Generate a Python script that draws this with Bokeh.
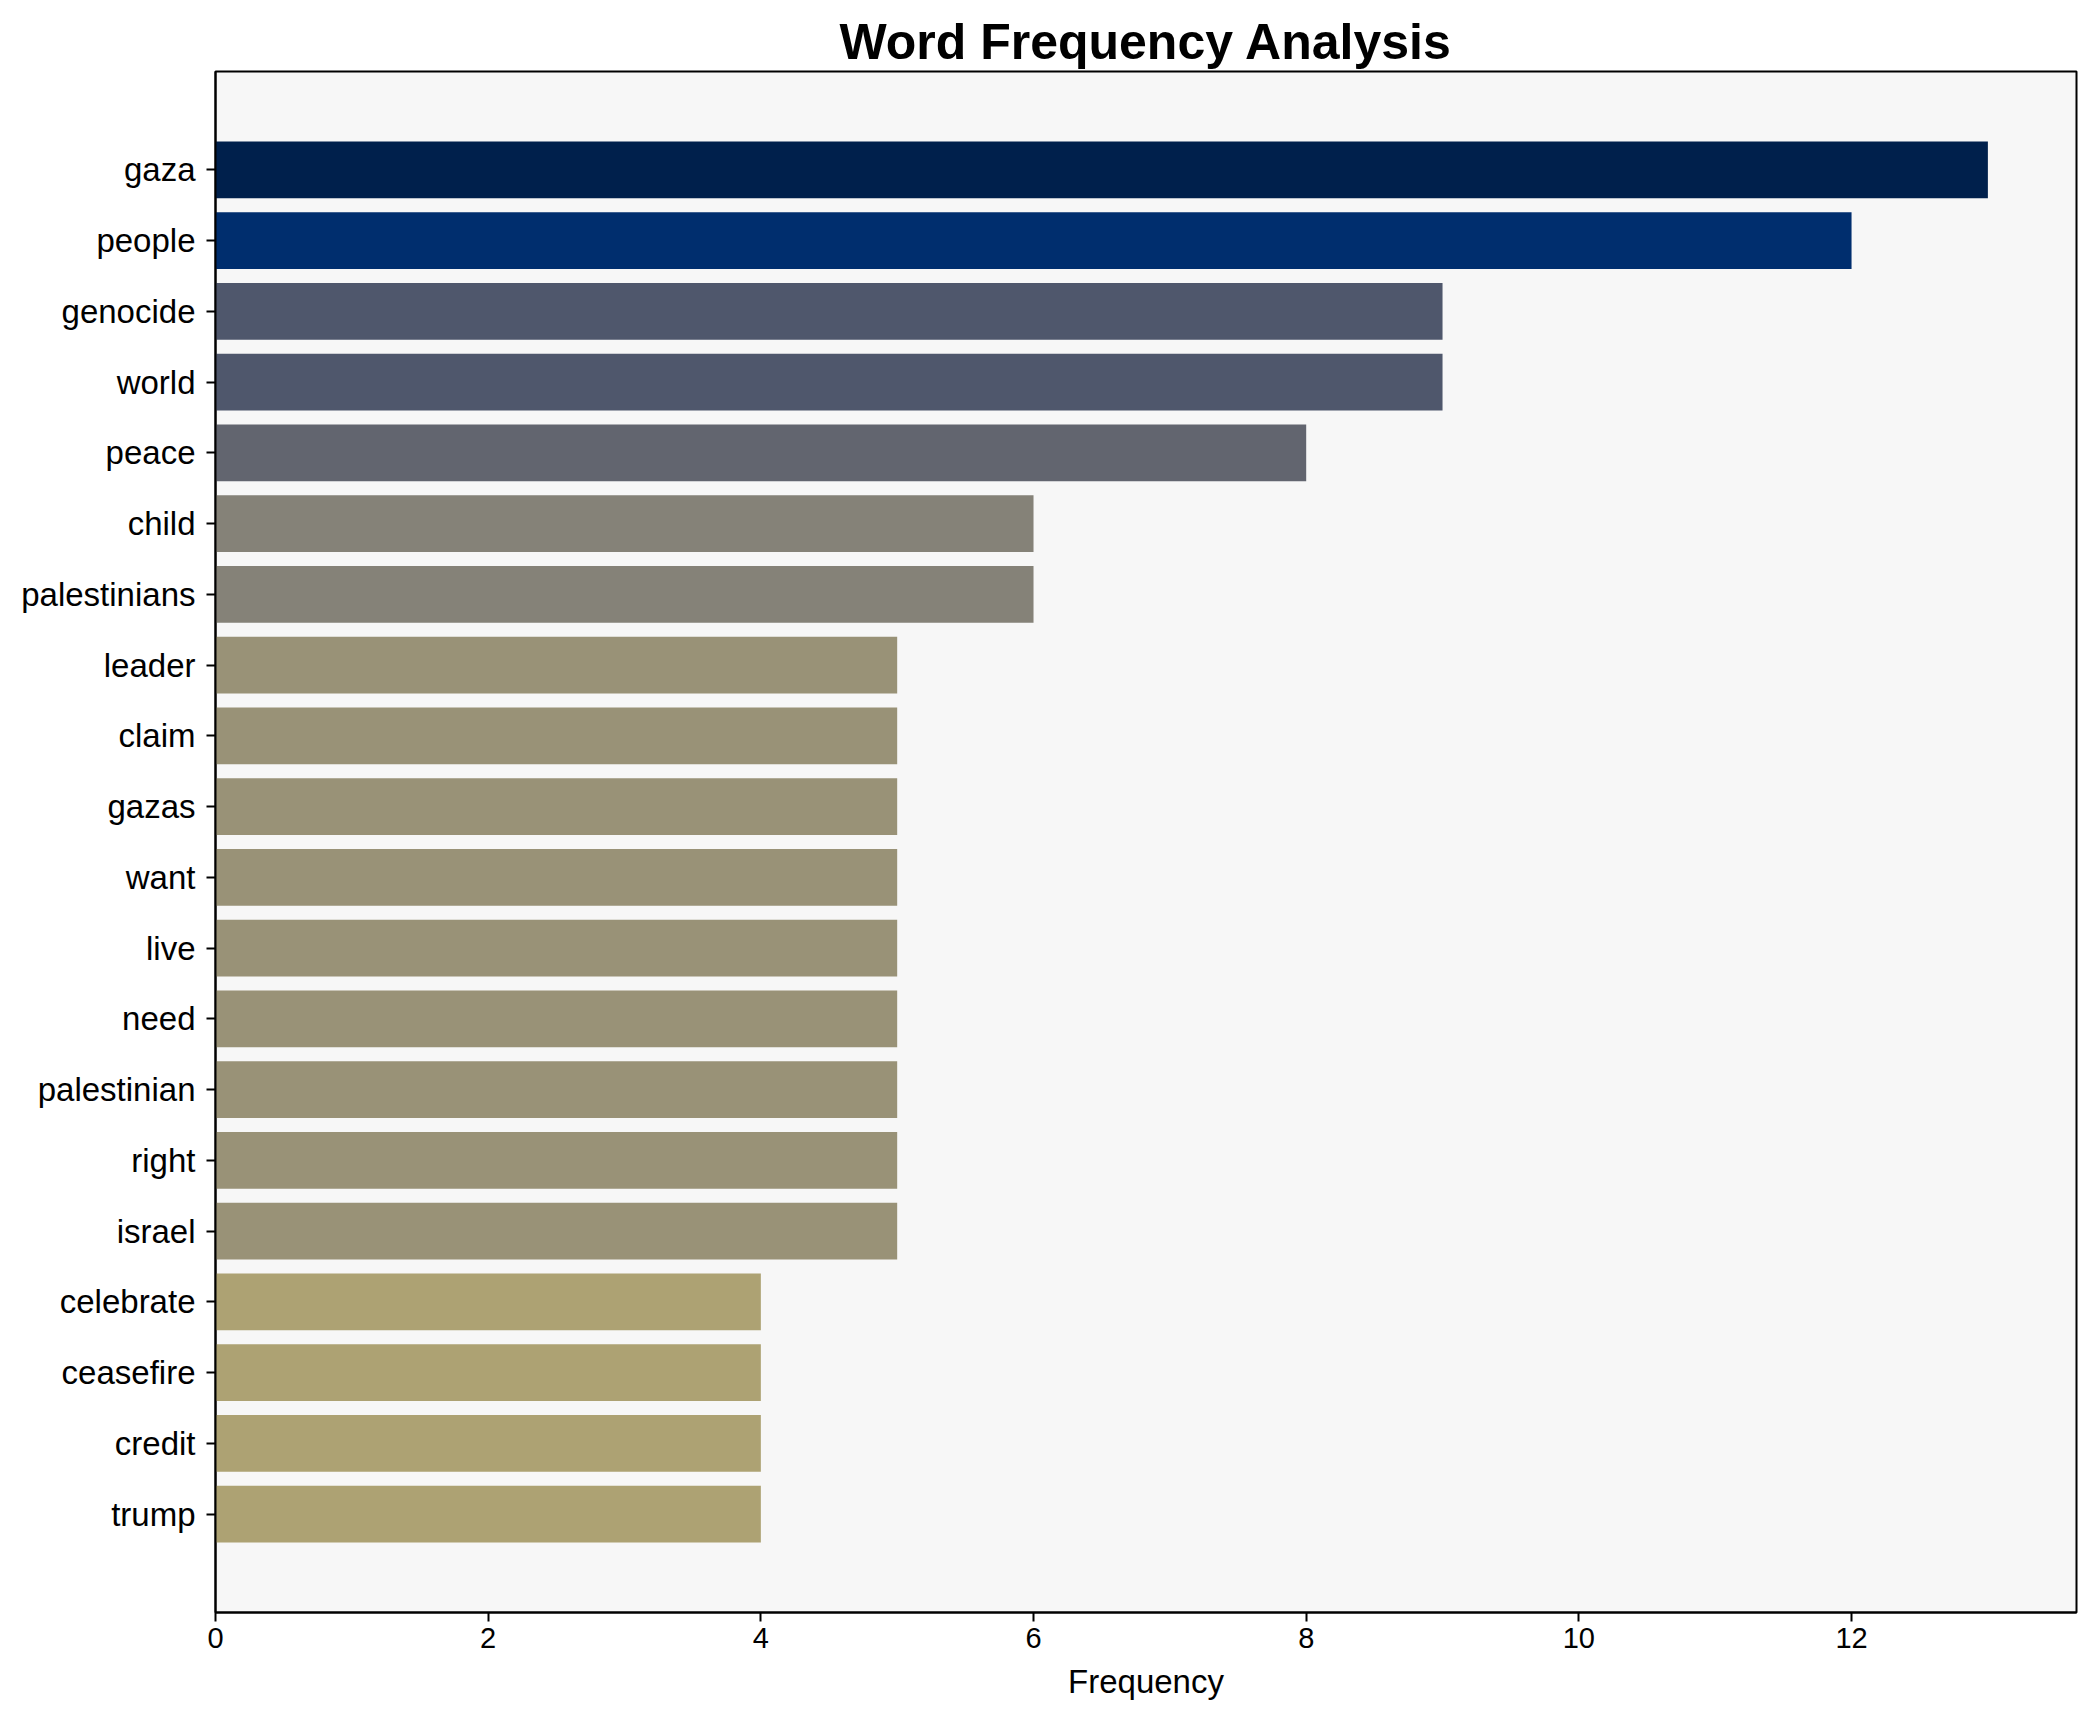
from bokeh.plotting import figure
from bokeh.models import Range1d, FixedTicker, ColumnDataSource
from bokeh.palettes import Cividis256
from bokeh.embed import file_html
from bokeh.resources import INLINE

words = ["gaza", "people", "genocide", "world", "peace", "child", "palestinians",
         "leader", "claim", "gazas", "want", "live", "need", "palestinian", "right",
         "israel", "celebrate", "ceasefire", "credit", "trump"]
counts = [13, 12, 9, 9, 8, 6, 6, 5, 5, 5, 5, 5, 5, 5, 5, 5, 4, 4, 4, 4]
x_ticks = [0, 2, 4, 6, 8, 10, 12]

vmax = max(counts)
colors = [Cividis256[int(round((1 - c / vmax) * 255))] for c in counts]
pos = list(range(len(words)))

src = ColumnDataSource(dict(y=pos, right=counts, color=colors, word=words))

FONT = "Liberation Sans"

p = figure(
    frame_width=1861, frame_height=1541,
    min_border_left=215, min_border_right=19, min_border_top=71, min_border_bottom=110,
    x_range=Range1d(0, vmax * 1.05),
    y_range=Range1d(len(words) - 1 + 1.39, -1.39),
    output_backend="svg", toolbar_location=None,
    title="Word Frequency Analysis",
)

p.hbar(y="y", left=0, right="right", height=0.8, fill_color="color",
       line_color=None, source=src)

p.background_fill_color = "#f7f7f7"
p.border_fill_color = "white"
p.outline_line_color = "black"
p.outline_line_width = 2
p.xgrid.visible = False
p.ygrid.visible = False

p.title.text_font = FONT
p.title.text_font_size = "50px"
p.title.text_font_style = "bold"
p.title.align = "center"
p.title.standoff = 3
p.title.text_color = "black"

xa = p.xaxis[0]
xa.ticker = FixedTicker(ticks=x_ticks)
xa.axis_label = "Frequency"
xa.axis_label_text_font = FONT
xa.axis_label_text_font_size = "33px"
xa.axis_label_text_font_style = "normal"
xa.axis_label_text_color = "black"
xa.axis_label_standoff = 12
xa.major_label_text_font = FONT
xa.major_label_text_font_size = "29px"
xa.major_label_text_color = "black"
xa.major_label_standoff = 6
xa.major_tick_out = 9
xa.major_tick_in = 0
xa.minor_tick_out = 0
xa.minor_tick_in = 0
xa.axis_line_width = 2
xa.axis_line_color = "black"
xa.major_tick_line_width = 2
xa.major_tick_line_color = "black"

ya = p.yaxis[0]
ya.ticker = FixedTicker(ticks=pos)
ya.major_label_overrides = {i: w for i, w in zip(pos, words)}
ya.major_label_text_font = FONT
ya.major_label_text_font_size = "33px"
ya.major_label_text_color = "black"
ya.major_label_standoff = 11
ya.major_tick_out = 9
ya.major_tick_in = 0
ya.minor_tick_out = 0
ya.minor_tick_in = 0
ya.axis_line_width = 2
ya.axis_line_color = "black"
ya.major_tick_line_width = 2
ya.major_tick_line_color = "black"

open("out.html", "w").write(file_html(p, INLINE))
